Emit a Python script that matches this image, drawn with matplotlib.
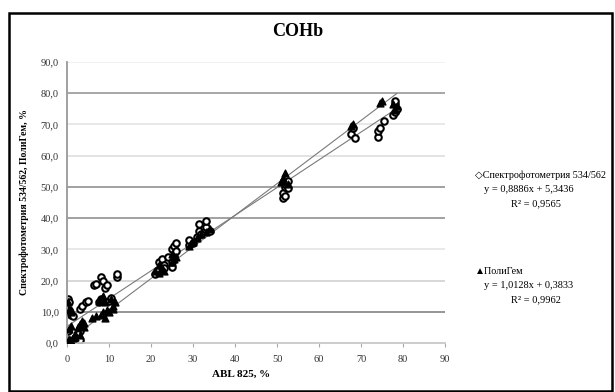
import numpy as np
import matplotlib.pyplot as plt
from matplotlib.patches import Rectangle

# Spectrophotometry 534/562 (open markers)
spec_x = [0.3, 0.5, 0.5, 0.8, 1.0, 1.5, 0.3, 0.5, 1.0, 2.0, 3.0, 3.0, 3.5, 4.5, 5.0,
          6.5, 7.0, 8.0, 8.5, 9.0, 9.5, 10.0, 10.5, 12.0, 12.0, 8.0, 7.5, 3.0, 2.5,
          21.0, 21.5, 22.0, 22.5, 23.0, 23.0, 24.0,
          25.0, 25.0, 25.5, 25.0, 25.5, 26.0, 26.0,
          29.0, 29.0, 30.0,
          31.0, 31.5, 31.5, 32.0, 33.0, 33.0, 34.0,
          51.5, 51.5, 52.0, 52.0, 52.5, 52.5, 52.0,
          67.5, 68.0, 68.5,
          74.0, 74.0, 74.5, 75.5,
          77.5, 78.0, 78.0, 78.5, 78.0]
spec_y = [14.0, 13.0, 10.5, 10.0, 9.0, 8.5, 4.0, 1.0, 0.5, 1.5, 1.0, 11.0, 12.0, 13.0, 13.5,
          18.5, 19.0, 21.0, 20.0, 17.5, 18.5, 13.5, 14.5, 21.0, 22.0, 14.0, 13.0, 4.0, 3.0,
          22.0, 23.0, 26.0, 27.0, 25.0, 24.0, 27.5,
          24.5, 26.0, 28.0, 30.0, 31.0, 29.5, 32.0,
          31.5, 33.0, 32.0,
          34.0, 36.0, 38.0, 35.0, 37.0, 39.0, 36.0,
          46.5, 48.0, 50.0, 51.0, 52.0, 49.5, 47.0,
          67.0, 69.0, 65.5,
          66.0, 68.0, 69.0, 71.0,
          73.0, 74.0, 76.5, 75.0, 77.5]

# PoliGem (filled triangles)
poli_x = [0.2, 0.5, 1.0, 1.5, 2.0, 0.5, 1.0, 2.5, 3.0, 3.5, 4.0, 2.0, 3.0, 0.5, 1.0, 0.3, 4.0,
          6.0, 7.0, 8.0, 8.5, 9.0, 9.5, 10.0, 11.0, 11.0, 8.0, 8.5, 9.0, 10.5, 11.5, 7.5,
          21.0, 22.0, 22.5, 23.0, 22.0, 25.0, 25.5, 26.0, 25.0,
          29.0, 30.0, 31.0, 32.0, 33.0, 34.0,
          51.5, 51.5, 52.0, 52.5, 51.0,
          67.5, 68.0,
          74.5, 75.0,
          78.0, 78.5, 78.0, 77.5]
poli_y = [0.5, 1.0, 0.5, 1.5, 3.0, 4.5, 5.5, 5.0, 6.0, 7.0, 6.5, 2.0, 2.5, 10.5, 10.0, 13.0, 5.0,
          8.0, 8.5, 9.0, 10.0, 8.0, 10.5, 10.0, 11.0, 12.0, 14.0, 15.0, 13.0, 14.0, 13.0, 13.5,
          23.0, 22.5, 24.0, 23.0, 25.0, 26.0, 27.0, 27.5, 28.5,
          31.0, 32.5, 33.5, 35.0, 35.5, 36.5,
          52.0, 53.0, 54.5, 51.0, 51.5,
          69.5, 70.0,
          77.0, 77.5,
          75.0, 76.0, 74.5, 76.5]

# trend lines
spec_fit = [0.8886, 5.3436]
poli_fit = [1.0128, 0.3833]

x_ticks = [0, 10, 20, 30, 40, 50, 60, 70, 80, 90]
y_ticks = [0, 10, 20, 30, 40, 50, 60, 70, 80, 90]
grid_colors = ['#b8b8b8', '#8c8c8c', '#d4d4d4', '#e6e6e6', '#9a9a9a',
               '#9a9a9a', '#e0e0e0', '#e6e6e6', '#a0a0a0', '#f0f0f0']

serif = ['Liberation Serif', 'DejaVu Serif']
sym = ['Liberation Serif', 'DejaVu Sans']

fig = plt.figure(figsize=(6.15, 3.92), dpi=100)
ax = fig.add_axes([67/615, 49/392, 378/615, 281/392])

for v, c in zip(y_ticks[1:], grid_colors[1:]):
    ax.axhline(v, color=c, lw=1.3, zorder=0)

xs = np.array([0, 78.5])
ax.plot(xs, spec_fit[0]*xs + spec_fit[1], color='#7a7a7a', lw=0.8, zorder=1)
ax.plot(xs, poli_fit[0]*xs + poli_fit[1], color='#7a7a7a', lw=0.8, zorder=1)

ax.scatter(spec_x, spec_y, s=22, marker='o', facecolor='white', edgecolor='black',
           linewidth=1.5, zorder=2)
ax.scatter(poli_x, poli_y, s=24, marker='^', color='black', zorder=3)

ax.set_xlim(0, 90)
ax.set_ylim(0, 90)
ax.set_xticks(x_ticks)
ax.set_yticks(y_ticks)
ax.set_xticklabels([str(t) for t in x_ticks], family=serif, fontsize=7.5, color='#333333')
ax.set_yticklabels([f'{t},0' for t in y_ticks], family=serif, fontsize=7.5, color='#333333')
ax.tick_params(axis='y', length=0, pad=6)
ax.tick_params(axis='x', length=3, color='#aaaaaa', pad=6)
for s in ['top', 'right']:
    ax.spines[s].set_visible(False)
ax.spines['left'].set_color('#999999')
ax.spines['left'].set_linewidth(1.3)
ax.spines['bottom'].set_color('#c8c8c8')
ax.spines['bottom'].set_linewidth(1.3)

ax.set_xlabel('ABL 825, %', family=serif, fontsize=8, fontweight='bold', labelpad=2)
ax.set_ylabel('Спектрофотометрия 534/562, ПолиГем, %', family=serif, fontsize=7,
              fontweight='bold', labelpad=8)
ax.xaxis.set_label_coords(0.46, -0.095)

fig.text(298/615, 1 - 32/392, 'COHb', family=serif, fontsize=13, fontweight='bold',
         ha='center', va='center')

fig.text(475/615, 1 - 175/392, '◇Спектрофотометрия 534/562', family=sym, fontsize=7.3, va='center')
fig.text(484/615, 1 - 189/392, 'y = 0,8886x + 5,3436', family=serif, fontsize=7.5, va='center')
fig.text(511/615, 1 - 204/392, 'R² = 0,9565', family=serif, fontsize=7.5, va='center')
fig.text(475/615, 1 - 272/392, '▲ПолиГем', family=sym, fontsize=7.3, va='center')
fig.text(484/615, 1 - 286/392, 'y = 1,0128x + 0,3833', family=serif, fontsize=7.5, va='center')
fig.text(511/615, 1 - 300/392, 'R² = 0,9962', family=serif, fontsize=7.5, va='center')

fig.patches.append(Rectangle((9/615, 1/392), 603/615, 378/392, transform=fig.transFigure,
                             fill=False, edgecolor='black', lw=1.8))

fig.savefig('out.png', dpi=100)
